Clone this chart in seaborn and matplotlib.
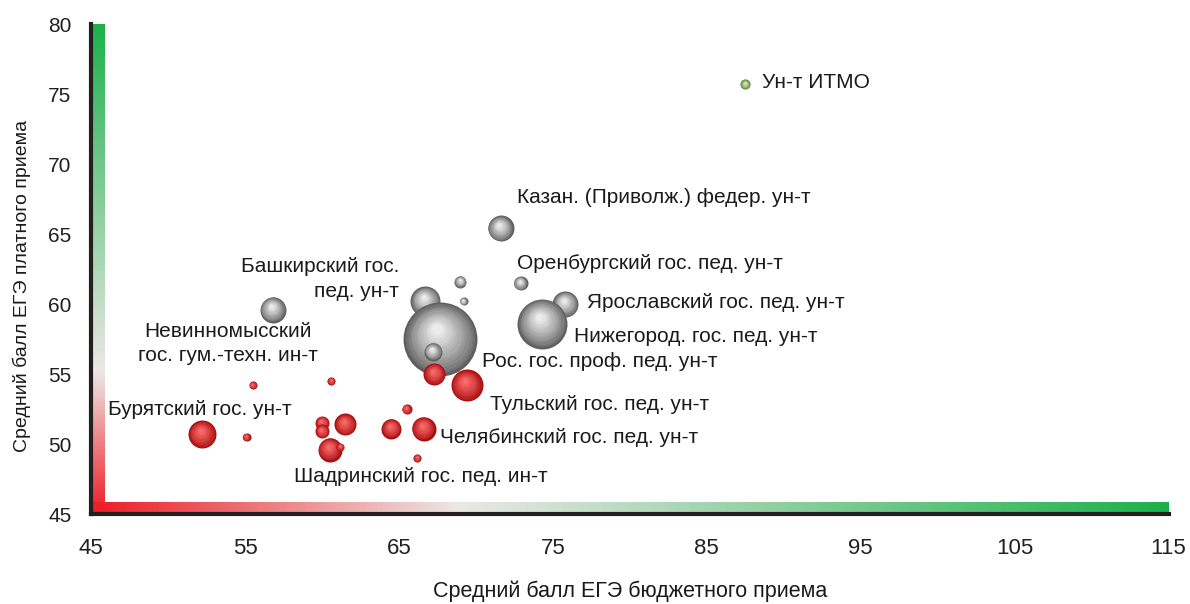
import numpy as np
import matplotlib
matplotlib.use("Agg")
import matplotlib.pyplot as plt
from matplotlib.colors import LinearSegmentedColormap, to_rgb
import seaborn as sns

budget_score = [87.5, 71.6, 66.7, 75.8, 74.3, 67.7, 69.0, 69.2, 72.9, 56.8, 67.2,
                67.3, 69.4, 55.5, 60.6, 65.5, 52.2, 55.1, 60.0, 60.0, 61.5, 60.5,
                61.2, 64.5, 66.6, 66.2]
paid_score = [75.7, 65.4, 60.2, 60.0, 58.6, 57.5, 61.6, 60.2, 61.5, 59.6, 56.6,
              55.0, 54.2, 54.2, 54.5, 52.5, 50.7, 50.5, 51.5, 50.9, 51.4, 49.6,
              49.8, 51.1, 51.1, 49.0]
bubble_size = [5, 13, 15, 13, 25, 37, 6, 4, 7, 13, 9,
               11, 16, 4, 4, 5, 14, 4, 7, 7, 11, 12,
               4, 10, 12, 4]
group = ["green"] + ["gray"] * 10 + ["red"] * 15

label_text = ["Ун-т ИТМО",
              "Казан. (Приволж.) федер. ун-т",
              "Башкирский гос.\nпед. ун-т",
              "Оренбургский гос. пед. ун-т",
              "Ярославский гос. пед. ун-т",
              "Нижегород. гос. пед. ун-т",
              "Невинномысский\nгос. гум.-техн. ин-т",
              "Рос. гос. проф. пед. ун-т",
              "Тульский гос. пед. ун-т",
              "Бурятский гос. ун-т",
              "Челябинский гос. пед. ун-т",
              "Шадринский гос. пед. ин-т"]
# положения подписей (в данных) и выравнивание
label_pos = [(88.6, 75.8, "left"),
             (72.7, 67.6, "left"),
             (65.0, 61.8, "right"),
             (72.7, 62.9, "left"),
             (77.2, 60.1, "left"),
             (76.4, 57.7, "left"),
             (53.9, 57.2, "center"),
             (70.4, 55.9, "left"),
             (70.9, 52.8, "left"),
             (46.1, 52.5, "left"),
             (67.7, 50.5, "left"),
             (58.2, 47.7, "left")]

x_ticks = [45, 55, 65, 75, 85, 95, 105, 115]
y_ticks = [45, 50, 55, 60, 65, 70, 75, 80]

sns.set_theme(style="white")
plt.rcParams["font.family"] = ["Liberation Sans", "DejaVu Sans"]

PALETTE = {
    "gray": ("#5f5f5f", "#f4f4f4"),
    "red": ("#a80c0c", "#ff7070"),
    "green": ("#4f7f2a", "#e0f5c0"),
}
DARK = "#231f20"

fig = plt.figure(figsize=(11.9, 6.04), dpi=100)
ax = fig.add_axes([0.0765, 0.149, 0.9055, 0.811])
ax.set_xlim(45, 115)
ax.set_ylim(45, 80)

# градиентные полосы вдоль осей
red, white, green = "#ed1c24", "#ece8e6", "#1db14b"
cmap_v = LinearSegmentedColormap.from_list("v", [(0, red), (0.29, white), (1, green)])
cmap_h = LinearSegmentedColormap.from_list("h", [(0, red), (0.34, white), (1, green)])
grad = np.linspace(0, 1, 256)
ax.imshow(grad[:, None], extent=(45, 45.85, 45, 80), origin="lower",
          cmap=cmap_v, aspect="auto", zorder=1)
ax.imshow(grad[None, :], extent=(45, 115, 45, 45.85), origin="lower",
          cmap=cmap_h, aspect="auto", zorder=1)

# шары: базовый слой через seaborn, затем слои подсветки
bx = np.array(budget_score)
by = np.array(paid_score)
r = np.array(bubble_size, dtype=float)
px_x = 1078 / 70.0
px_y = 490 / 35.0
n_layers = 14
z = 3
for i in range(len(bx)):
    dark, light = PALETTE[group[i]]
    c0, c1 = np.array(to_rgb(dark)), np.array(to_rgb(light))
    s0 = 2.07 * r[i] ** 2
    sns.scatterplot(x=[bx[i]], y=[by[i]], s=s0, color=dark, linewidth=0,
                    ax=ax, zorder=z, legend=False)
    z += 1
    for k in range(1, n_layers):
        t = k / n_layers
        scale = (1 - 0.92 * t)
        off = 0.28 * r[i] * t
        col = c0 + (c1 - c0) * t ** 0.8
        ax.scatter(bx[i] - off / px_x * 0.4, by[i] + off / px_y, s=s0 * scale ** 2,
                   color=col, linewidth=0, zorder=z)
        z += 1

for txt, (tx, ty, ha) in zip(label_text, label_pos):
    ax.text(tx, ty, txt, ha=ha, va="center", fontsize=15, color="#1a1a1a",
            zorder=1000, linespacing=1.35)

ax.set_xticks(x_ticks)
ax.set_yticks(y_ticks)
ax.tick_params(axis="x", direction="out", length=5, width=2.5, color=DARK,
               pad=12, labelsize=16, labelcolor=DARK)
ax.tick_params(axis="y", direction="out", length=6, width=2.5, color=DARK,
               pad=8, labelsize=15, labelcolor=DARK)
for side in ["top", "right"]:
    ax.spines[side].set_visible(False)
for side in ["left", "bottom"]:
    ax.spines[side].set_color(DARK)
    ax.spines[side].set_linewidth(3)
ax.set_xlabel("Средний балл ЕГЭ бюджетного приема", fontsize=15.5, color="#1a1a1a",
              labelpad=16)
ax.set_ylabel("Средний балл ЕГЭ платного приема", fontsize=14, color="#1a1a1a")
ax.yaxis.set_label_coords(-0.056, 0.465)
ax.grid(False)

fig.savefig("out.png", dpi=100)
